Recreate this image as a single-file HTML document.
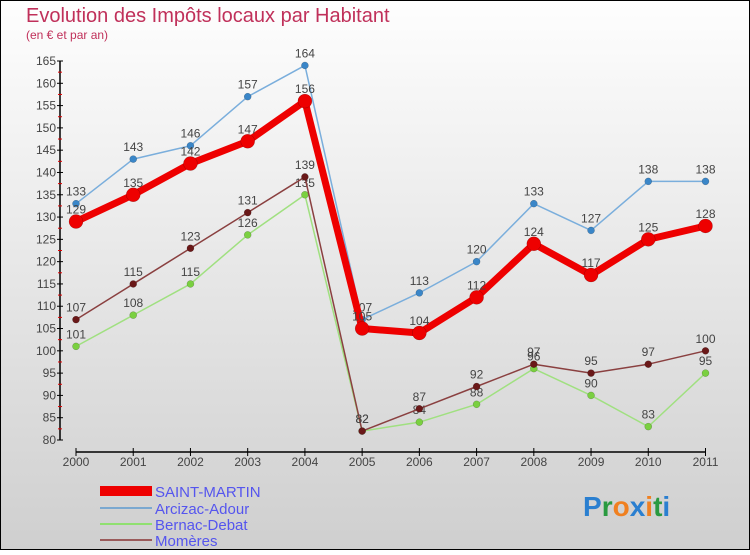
<!DOCTYPE html>
<html><head><meta charset="utf-8"><style>
body{margin:0;width:750px;height:550px;overflow:hidden;font-family:"Liberation Sans",sans-serif}
</style></head><body>
<svg width="750" height="550" xmlns="http://www.w3.org/2000/svg">
<defs><linearGradient id="bg" x1="0" y1="0" x2="0" y2="1"><stop offset="0" stop-color="#fefefe"/><stop offset="1" stop-color="#cfcfcf"/></linearGradient></defs>
<rect x="0.5" y="0.5" width="749" height="549" fill="url(#bg)" stroke="#000"/>
<text x="26" y="22" font-size="20" fill="#c0305a">Evolution des Impôts locaux par Habitant</text>
<text x="26" y="39" font-size="12" fill="#c0305a">(en € et par an)</text>
<g id="axes"></g><g id="series"></g>
<g font-size="15" fill="#5555ee">
<rect x="100" y="486" width="52" height="10" fill="#e00"/>
<text x="155" y="497">SAINT-MARTIN</text>
<line x1="100" y1="508" x2="152" y2="508" stroke="#7aa8d0" stroke-width="2"/>
<text x="155" y="514">Arcizac-Adour</text>
<line x1="100" y1="524" x2="152" y2="524" stroke="#90e070" stroke-width="2"/>
<text x="155" y="530">Bernac-Debat</text>
<line x1="100" y1="540" x2="152" y2="540" stroke="#9a5a5a" stroke-width="2"/>
<text x="155" y="546">Momères</text>
</g>
<g font-size="28" font-weight="bold">
<text x="583" y="516"><tspan fill="#2a7fd0">P</tspan><tspan fill="#2a9a40">r</tspan><tspan fill="#f08020">o</tspan><tspan fill="#2a7fd0">x</tspan><tspan fill="#f08020">i</tspan><tspan fill="#2a9a40">t</tspan><tspan fill="#2a7fd0">i</tspan></text>
</g>
</svg>
<script>
const years=[2000,2001,2002,2003,2004,2005,2006,2007,2008,2009,2010,2011];
const yTicks=[80,85,90,95,100,105,110,115,120,125,130,135,140,145,150,155,160,165];
const saintMartin=[129,135,142,147,156,105,104,112,124,117,125,128];
const arcizac=[133,143,146,157,164,107,113,120,133,127,138,138];
const bernac=[101,108,115,126,135,82,84,88,96,90,83,95];
const momeres=[107,115,123,131,139,82,87,92,97,95,97,100];
const NS="http://www.w3.org/2000/svg";
const X=i=>76+i*(705.5-76)/11;
const Y=v=>440-(v-80)*(440-61)/85;
function mk(t,a,p){const e=document.createElementNS(NS,t);for(const k in a)e.setAttribute(k,a[k]);p.appendChild(e);return e;}
const ax=document.getElementById('axes');
mk('line',{x1:60,y1:Y(165),x2:60,y2:440,stroke:'#000','stroke-width':1.5},ax);
mk('line',{x1:76,y1:452,x2:705.5,y2:452,stroke:'#000','stroke-width':1.5},ax);
yTicks.forEach(v=>{
 mk('line',{x1:57,y1:Y(v),x2:63,y2:Y(v),stroke:'#000'},ax);
 if(v<165)mk('line',{x1:58,y1:Y(v+2.5),x2:62,y2:Y(v+2.5),stroke:'#d00'},ax);
 const t=mk('text',{x:56,y:Y(v)+4,'text-anchor':'end','font-size':12,fill:'#444'},ax);
 
 
 t.textContent=v;
});
years.forEach((y,i)=>{
 mk('line',{x1:X(i),y1:448,x2:X(i),y2:456,stroke:'#000'},ax);
 const t=mk('text',{x:X(i),y:466,'text-anchor':'middle','font-size':12,fill:'#444'},ax);
 
 
 t.textContent=y;
});
const sg=document.getElementById('series');
function series(name,vals,color,dot,w,r,fs){
 const g=mk('g',{},sg);
 
 
 mk('polyline',{points:vals.map((v,i)=>X(i)+','+Y(v)).join(' '),fill:'none',stroke:color,'stroke-width':w,'stroke-linejoin':'round'},g);
 vals.forEach((v,i)=>{
  const c=mk('circle',{cx:X(i),cy:Y(v),r:r,fill:dot,stroke:'rgba(0,0,0,0.3)','stroke-width':0.5},g);
  
  
  const t=mk('text',{x:X(i),y:Y(v)-8,'text-anchor':'middle','font-size':fs,fill:'#444'},g);
  
  
  t.textContent=v;
 });
}
series('arcizac',arcizac,'#7aaedc','#3a86c8',1.5,3.5,12);
series('bernac',bernac,'#a0e080','#7ad040',1.5,3.5,12);
series('momeres',momeres,'#8a4040','#6a1818',1.5,3.5,12);
series('saint-martin',saintMartin,'#ee0000','#ee0000',7,7,12);
</script>
</body></html>
